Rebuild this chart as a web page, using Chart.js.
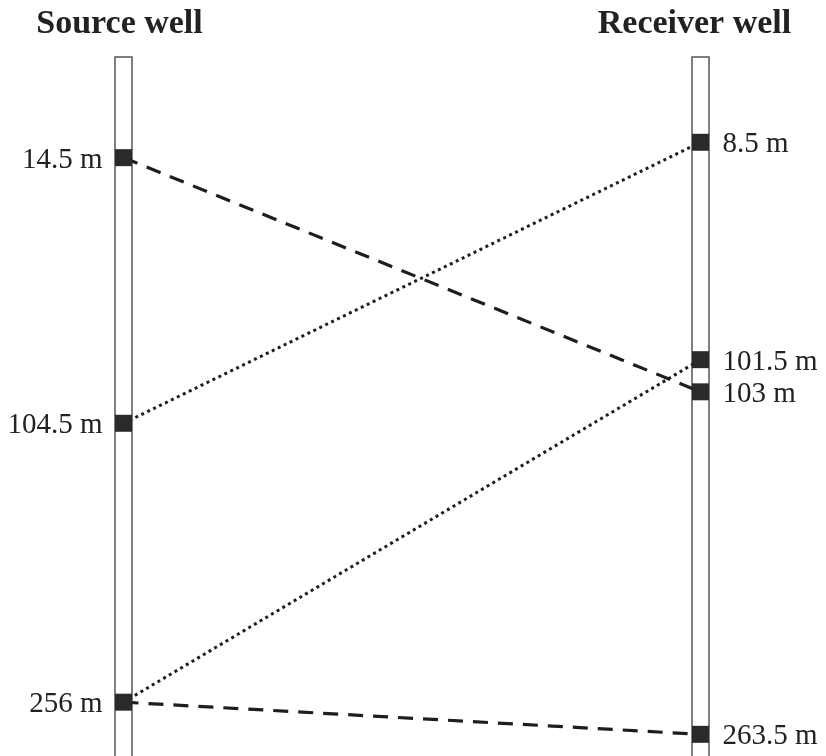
<!DOCTYPE html>
<html>
<head>
<meta charset="utf-8">
<title>Source well / Receiver well</title>
<script src="https://cdn.jsdelivr.net/npm/chart.js@4"></script>
<style>
    body { margin: 0; background: #fff; }
    #wrap { width: 826px; height: 756px; }
</style>
</head>
<body>
<div id="wrap"><canvas id="wells" width="826" height="756"></canvas></div>
<script>
// Depth labels of each station (metres)
const sourceDepths = [14.5, 104.5, 256];
const receiverDepths = [8.5, 101.5, 103, 263.5];

// Where each station sits on the schematic (percent of shown well length, not to scale)
const sourcePos = [14.4, 52.4, 92.3];
const receiverPos = [12.2, 43.3, 47.9, 96.9];

// Ray paths: [source index, receiver index, line style]
const rays = [
    [0, 2, 'dashed'],
    [1, 0, 'dotted'],
    [2, 1, 'dotted'],
    [2, 3, 'dashed']
];

const wellNames = ['Source well', 'Receiver well'];
const SOURCE_X = 0, RECEIVER_X = 1;

const ink = '#1e1e1e';
const dashStyles = {
    dashed: [15, 10],
    dotted: [3, 3.6]
};

// markers for every station
const markerPoints = [
    ...sourcePos.map((y) => ({ x: SOURCE_X, y })),
    ...receiverPos.map((y) => ({ x: RECEIVER_X, y }))
];

const rayDatasets = rays.map(([s, r, style]) => ({
    data: [{ x: SOURCE_X, y: sourcePos[s] }, { x: RECEIVER_X, y: receiverPos[r] }],
    showLine: true,
    borderColor: ink,
    borderWidth: style === 'dashed' ? 3.2 : 3,
    borderDash: dashStyles[style],
    pointRadius: 0,
    clip: false
}));

// draws the two well casings behind everything, and the text on top
const wellPlugin = {
    id: 'wells',
    beforeDatasetsDraw(chart) {
        const { ctx, scales: { x, y } } = chart;
        const top = y.getPixelForValue(0);
        ctx.save();
        [SOURCE_X, RECEIVER_X].forEach((w) => {
            const cx = x.getPixelForValue(w);
            ctx.fillStyle = '#fff';
            ctx.fillRect(cx - 8.5, top, 17, chart.height - top + 10);
            ctx.strokeStyle = '#555';
            ctx.lineWidth = 1.5;
            ctx.strokeRect(cx - 8.5, top, 17, chart.height - top + 10);
        });
        ctx.restore();
    },
    afterDatasetsDraw(chart) {
        const { ctx, scales: { x, y } } = chart;
        ctx.save();
        ctx.fillStyle = '#222';

        // well titles
        ctx.font = 'bold 34px "Liberation Serif", "Times New Roman", serif';
        ctx.textAlign = 'center';
        ctx.textBaseline = 'alphabetic';
        ctx.fillText(wellNames[0], x.getPixelForValue(SOURCE_X) - 4, 33);
        ctx.fillText(wellNames[1], x.getPixelForValue(RECEIVER_X) - 6, 33);

        // depth labels
        ctx.font = '29px "Liberation Serif", "Times New Roman", serif';
        ctx.textAlign = 'right';
        sourceDepths.forEach((d, i) => {
            ctx.fillText(d + ' m', x.getPixelForValue(SOURCE_X) - 21, y.getPixelForValue(sourcePos[i]) + 10);
        });
        ctx.textAlign = 'left';
        receiverDepths.forEach((d, i) => {
            ctx.fillText(d + ' m', x.getPixelForValue(RECEIVER_X) + 22, y.getPixelForValue(receiverPos[i]) + 10);
        });
        ctx.restore();
    }
};

new Chart(document.getElementById('wells'), {
    type: 'scatter',
    data: {
        datasets: [
            {
                data: markerPoints,
                pointStyle: 'rect',
                pointRadius: 12,
                pointHoverRadius: 12,
                backgroundColor: '#2a2a2a',
                borderColor: '#2a2a2a',
                borderWidth: 0,
                clip: false
            },
            ...rayDatasets
        ]
    },
    options: {
        responsive: false,
        animation: false,
        events: [],
        layout: {
            autoPadding: false,
            padding: { left: 123.5, right: 125.5, top: 57, bottom: 0 }
        },
        scales: {
            x: { type: 'linear', min: 0, max: 1, display: false },
            y: { type: 'linear', min: 0, max: 100, reverse: true, display: false }
        },
        plugins: {
            legend: { display: false },
            tooltip: { enabled: false }
        }
    },
    plugins: [wellPlugin]
});
</script>
</body>
</html>
